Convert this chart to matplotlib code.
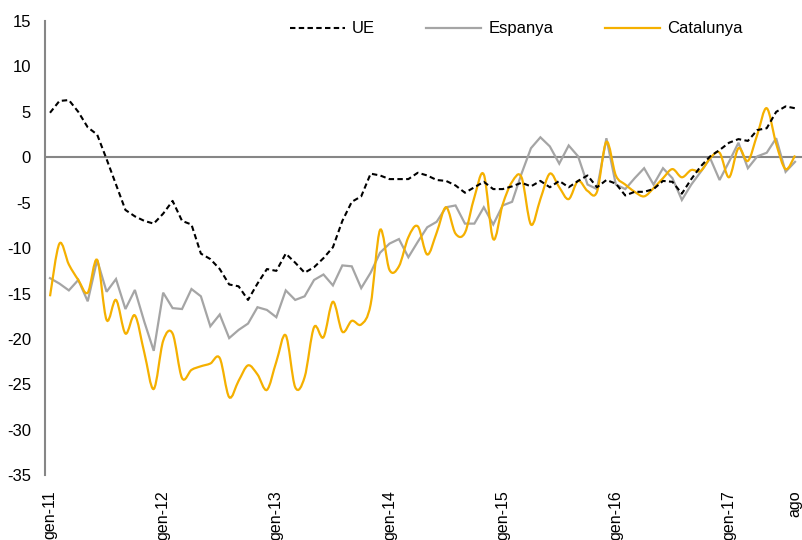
import numpy as np
import matplotlib
matplotlib.use("Agg")
import matplotlib.pyplot as plt
from matplotlib.path import Path
from matplotlib.patches import PathPatch
from matplotlib.lines import Line2D

plt.rcParams['font.family'] = ['Liberation Sans', 'DejaVu Sans']
plt.rcParams['axes.unicode_minus'] = False

# ---- data (monthly, gen-11 .. ago-17) ----
tick_positions = [0, 12, 24, 36, 48, 60, 72, 79]
tick_labels = ["gen-11", "gen-12", "gen-13", "gen-14", "gen-15", "gen-16", "gen-17", "ago"]

ue = [4.9, 6.2, 6.3, 5.0, 3.3, 2.5, -0.2, -3.0, -5.8, -6.5,
      -7.0, -7.3, -6.2, -4.8, -7.0, -7.4, -10.6, -11.2, -12.3, -14.0,
      -14.2, -15.7, -13.9, -12.3, -12.5, -10.6, -11.6, -12.7, -12.1, -11.1,
      -9.9, -7.0, -4.9, -4.3, -1.8, -2.0, -2.4, -2.4, -2.4, -1.7,
      -2.0, -2.5, -2.6, -3.1, -3.9, -3.3, -2.7, -3.5, -3.5, -3.2,
      -2.8, -3.2, -2.6, -3.3, -2.6, -3.3, -2.6, -2.0, -3.3, -2.5,
      -2.9, -4.2, -3.8, -3.8, -3.5, -2.6, -2.7, -4.0, -2.4, -1.0,
      0.1, 0.8, 1.6, 2.0, 1.8, 3.0, 3.2, 5.0, 5.6, 5.4]

espanya = [-13.3, -13.9, -14.65, -13.5, -15.85, -11.3, -14.8, -13.4, -16.7, -14.6,
           -18.1, -21.3, -14.9, -16.6, -16.7, -14.5, -15.3, -18.6, -17.3, -19.9,
           -19.0, -18.3, -16.5, -16.8, -17.6, -14.65, -15.7, -15.3, -13.5, -12.9,
           -14.1, -11.9, -12.0, -14.4, -12.7, -10.5, -9.5, -9.0, -11.0, -9.3,
           -7.7, -7.1, -5.5, -5.3, -7.3, -7.3, -5.5, -7.4, -5.3, -4.9,
           -1.8, 1.0, 2.2, 1.2, -0.7, 1.3, 0.1, -3.0, -3.5, 2.1,
           -3.0, -3.5, -2.3, -1.2, -3.0, -1.2, -2.3, -4.7, -3.0, -1.6,
           -0.1, -2.5, -0.5, 1.6, -1.2, 0.1, 0.5, 2.1, -1.6, -0.5]

catalunya = [-15.3, -9.5, -11.8, -13.5, -14.9, -11.3, -17.9, -15.7, -19.4, -17.4,
             -21.5, -25.5, -20.2, -19.4, -24.3, -23.4, -23.0, -22.7, -22.1, -26.4,
             -24.6, -22.9, -23.9, -25.6, -22.5, -19.6, -25.3, -24.2, -18.7, -19.8,
             -15.9, -19.2, -18.0, -18.4, -16.2, -8.0, -12.4, -12.0, -8.8, -7.6,
             -10.7, -8.3, -5.5, -8.4, -8.3, -4.4, -1.9, -9.0, -5.2, -2.7,
             -2.2, -7.4, -4.6, -1.8, -3.3, -4.6, -2.6, -3.7, -3.8, 1.7,
             -2.0, -3.0, -3.8, -4.3, -3.4, -2.3, -1.3, -2.2, -1.4, -1.5,
             -0.1, 0.5, -2.2, 1.0, -0.4, 2.5, 5.4, 1.5, -1.3, 0.2]

series_names = ["UE", "Espanya", "Catalunya"]

C_UE = "#000000"
C_ES = "#A5A5A5"
C_CAT = "#F5B000"
C_AXIS = "#868686"


def smooth_path(x, y):
    """Bezier path through the points (Excel-like smoothed line)."""
    n = len(x)
    verts = [(x[0], y[0])]
    codes = [Path.MOVETO]
    for i in range(n - 1):
        p0 = i - 1 if i > 0 else i
        p3 = i + 2 if i + 2 < n else i + 1
        c1 = (x[i] + (x[i + 1] - x[p0]) / 6.0, y[i] + (y[i + 1] - y[p0]) / 6.0)
        c2 = (x[i + 1] - (x[p3] - x[i]) / 6.0, y[i + 1] - (y[p3] - y[i]) / 6.0)
        verts += [c1, c2, (x[i + 1], y[i + 1])]
        codes += [Path.CURVE4] * 3
    return Path(verts, codes)


fig = plt.figure(figsize=(8.02, 5.40), dpi=100)
ax = fig.add_axes([45 / 802, (540 - 475.3) / 540, 757 / 802, 454.3 / 540])

x = np.arange(len(ue))

ax.axhline(0, color=C_AXIS, lw=1.5, zorder=1)

ax.plot(x, espanya, color=C_ES, lw=1.6, zorder=2, solid_joinstyle='miter')
cat_patch = PathPatch(smooth_path(x.astype(float), np.array(catalunya, float)),
                      facecolor='none', edgecolor=C_CAT, lw=1.6, zorder=3)
ax.add_patch(cat_patch)
ax.plot(x, ue, color=C_UE, lw=1.5, linestyle=(0, (2.6, 1.6)), zorder=4)

ax.set_xlim(-0.53, 79.74)
ax.set_ylim(-35, 15)
ax.set_yticks(np.arange(-35, 16, 5))
ax.set_xticks(tick_positions)
ax.set_xticklabels(tick_labels, rotation=90, va='top', ha='center')

ax.tick_params(axis='y', length=0, pad=10, labelsize=12, colors='#000000')
ax.tick_params(axis='x', length=0, pad=11, labelsize=11.5, colors='#000000')

for s in ['top', 'right', 'bottom']:
    ax.spines[s].set_visible(False)
ax.spines['left'].set_color(C_AXIS)
ax.spines['left'].set_linewidth(1.5)

handles = [
    Line2D([], [], color=C_UE, lw=1.5, linestyle=(0, (2.6, 1.6))),
    Line2D([], [], color=C_ES, lw=1.6),
    Line2D([], [], color=C_CAT, lw=1.6),
]
fig.legend(handles, series_names, loc='center', bbox_to_anchor=(516 / 802, 511 / 540),
           ncol=3, frameon=False, fontsize=12, handlelength=3.3,
           handletextpad=0.42, columnspacing=3.1)

fig.savefig("out.png", dpi=100)
